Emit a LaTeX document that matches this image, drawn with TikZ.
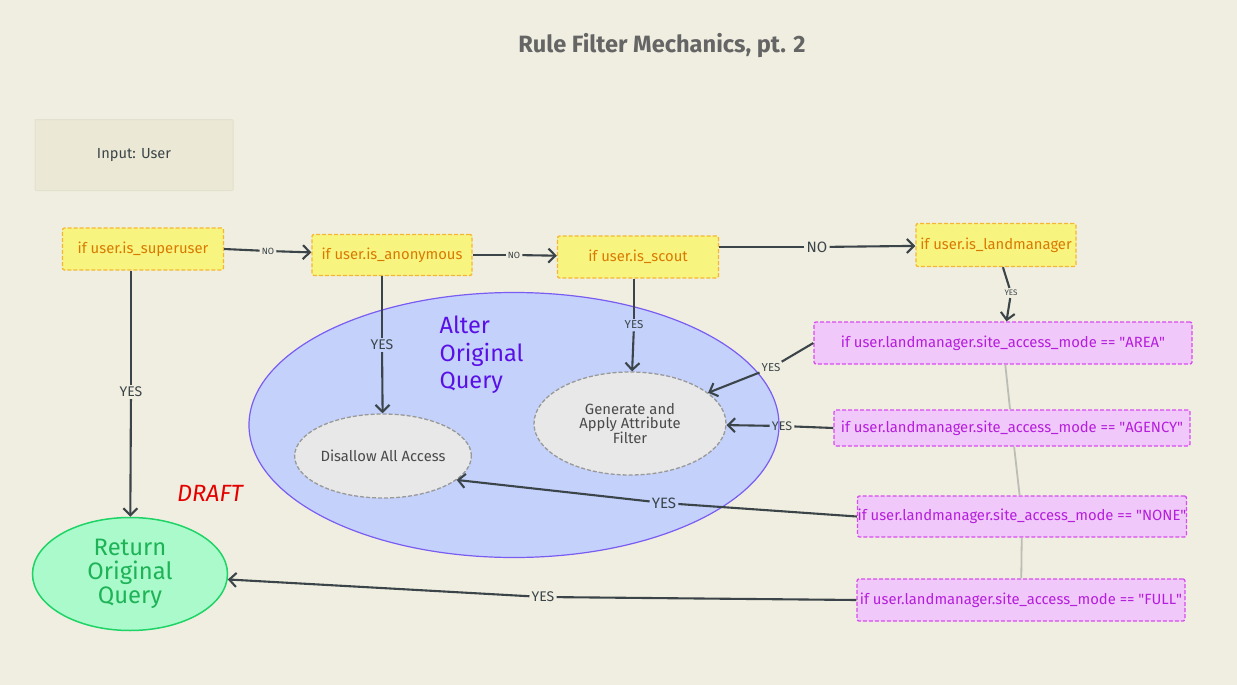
\documentclass[tikz,border=0pt]{standalone}
\usepackage{fontspec}
\setmainfont{Fira Sans}
\usepackage{tikz}
\usetikzlibrary{arrows.meta,shapes.geometric}

\definecolor{bg}{HTML}{F0EEE0}
\definecolor{link}{HTML}{3B4549}
\definecolor{inpfill}{HTML}{EBE9D5}
\definecolor{inpline}{HTML}{E2E0CE}
\definecolor{condfill}{HTML}{F8F480}
\definecolor{condline}{HTML}{F5B731}
\definecolor{condtext}{HTML}{D97A00}
\definecolor{modefill}{HTML}{F0C8FA}
\definecolor{modeline}{HTML}{D64DF0}
\definecolor{modetext}{HTML}{B51EDC}
\definecolor{alterfill}{HTML}{C3D1FB}
\definecolor{alterline}{HTML}{7A5CF2}
\definecolor{altertext}{HTML}{5A0FE6}
\definecolor{actfill}{HTML}{E8E8E8}
\definecolor{actline}{HTML}{999999}
\definecolor{acttext}{HTML}{4A4A4A}
\definecolor{retfill}{HTML}{AAFACB}
\definecolor{retline}{HTML}{1ED466}
\definecolor{rettext}{HTML}{1EB357}
\definecolor{chain}{HTML}{BDBDB8}

\newcommand{\qt}{\textquotedbl}

\begin{document}
\begin{tikzpicture}[x=1pt, y=-1pt, >={Straight Barb[length=7pt,width=14pt]}, every edge/.append style={->, line width=2.1pt, draw=link}, dashline/.style={dash pattern=on 4pt off 2pt}, cond/.style={draw=condline, fill=condfill, dashline, line width=1.3pt, rounded corners=2pt, text=condtext, inner sep=0pt, font=\fontsize{14.8}{16}\selectfont}, mode/.style={draw=modeline, fill=modefill, dashline, line width=1.3pt, rounded corners=2pt, text=modetext, inner sep=0pt, font=\fontsize{14.8}{16}\selectfont}, act/.style={ellipse, draw=actline, fill=actfill, dashline, line width=1.3pt, text=acttext, align=center, inner sep=0pt, font=\fontsize{14.8}{14}\selectfont}, lbl/.style={text=link, inner sep=2pt, font=\fontsize{#1}{#1}\selectfont}, lbl/.default=14]

\fill[bg] (0,0) rectangle (1237,685);
\useasboundingbox (0,0) rectangle (1237,685);

\node[text=acttext!85, font=\fontsize{23.6}{26}\selectfont\bfseries] (title) at (662,46) {Rule Filter Mechanics, pt. 2};

\node[draw=inpline, fill=inpfill, line width=1pt, rounded corners=1pt, minimum width=198, minimum height=71, text=link, font=\fontsize{14.6}{16}\selectfont] (inp) at (134,155) {Input: User};

% big container
\node[ellipse, draw=alterline, fill=alterfill, line width=1.2pt, minimum width=530, minimum height=265] (alter) at (514,425) {};
\node[anchor=west, align=left, text=altertext, font=\fontsize{23.5}{27.5}\selectfont] (alterlbl) at (436,355) {Alter\\Original\\Query};

% checks
\node[cond, minimum width=161, minimum height=42] (su) at (143,249) {if user.is\_superuser};
\node[cond, minimum width=160, minimum height=41] (an) at (392,255) {if user.is\_anonymous};
\node[cond, minimum width=161, minimum height=42] (sc) at (638,257) {if user.is\_scout};
\node[cond, minimum width=160, minimum height=43] (lm) at (996,245) {if user.is\_landmanager};

\node[mode, minimum width=378, minimum height=42] (area) at (1003,343) {if user.landmanager.site\_access\_mode == \qt AREA\qt};
\node[mode, minimum width=356, minimum height=36] (agency) at (1012,428) {if user.landmanager.site\_access\_mode == \qt AGENCY\qt};
\node[mode, minimum width=329, minimum height=41] (none) at (1022,516.5) {if user.landmanager.site\_access\_mode == \qt NONE\qt};
\node[mode, minimum width=328, minimum height=42] (full) at (1021,600) {if user.landmanager.site\_access\_mode == \qt FULL\qt};

% outcomes
\node[act, minimum width=164, minimum height=84] (dis) at (383,456) {Disallow All Access};
\node[act, minimum width=192, minimum height=103] (gen) at (630,423.5) {Generate and\\Apply Attribute\\Filter};
\node[ellipse, draw=retline, fill=retfill, line width=1.5pt, minimum width=195, minimum height=113, text=rettext, align=center, font=\fontsize{23.8}{24}\selectfont] (ret) at (130,574) {Return\\Original\\Query};

\node[text=red!90!black, font=\fontsize{23.5}{26}\selectfont\itshape] (draft) at (210,493) {DRAFT};

% edge labels
\node[lbl=9] (n1) at (268,251) {NO};
\node[lbl=9] (n2) at (514,255) {NO};
\node[lbl=15] (n3) at (817,247) {NO};
\node[lbl=8] (y1) at (1011,293) {YES};
\node[lbl] (y2) at (131,392) {YES};
\node[lbl] (y3) at (382,345) {YES};
\node[lbl=11.5] (y4) at (634,325) {YES};
\node[lbl=11.5] (y5) at (771,368) {YES};
\node[lbl=12.5] (y6) at (782,426) {YES};
\node[lbl=15] (y7) at (664,503) {YES};
\node[lbl] (y8) at (543,597) {YES};

\path
    (su.east) edge[-] (n1)
    (n1) edge (an)
    (an.east) edge[-] (n2)
    (n2) edge (sc)
    (sc.east |- n3) edge[-] (n3)
    (n3) edge (lm)
    (lm) edge[-] (y1)
    (y1) edge (area)
    (su.south -| y2) edge[-] (y2)
    (y2) edge (ret)
    (an.south -| y3) edge[-] (y3)
    (y3) edge (dis)
    (sc.south -| y4) edge[-] (y4)
    (y4) edge (gen)
    (area.west) edge[-] (y5)
    (y5) edge (gen)
    (agency.west) edge[-] (y6)
    (y6) edge (gen)
    (none.west) edge[-] (y7)
    (y7) edge (dis.-18)
    (full.west) edge[-] (y8)
    (y8) edge (ret);

% chain between modes
\path[every edge/.append style={-, draw=chain, line width=1.8pt}]
    (area) edge (agency)
    (agency) edge (none)
    (none) edge (full);
\end{tikzpicture}
\end{document}
